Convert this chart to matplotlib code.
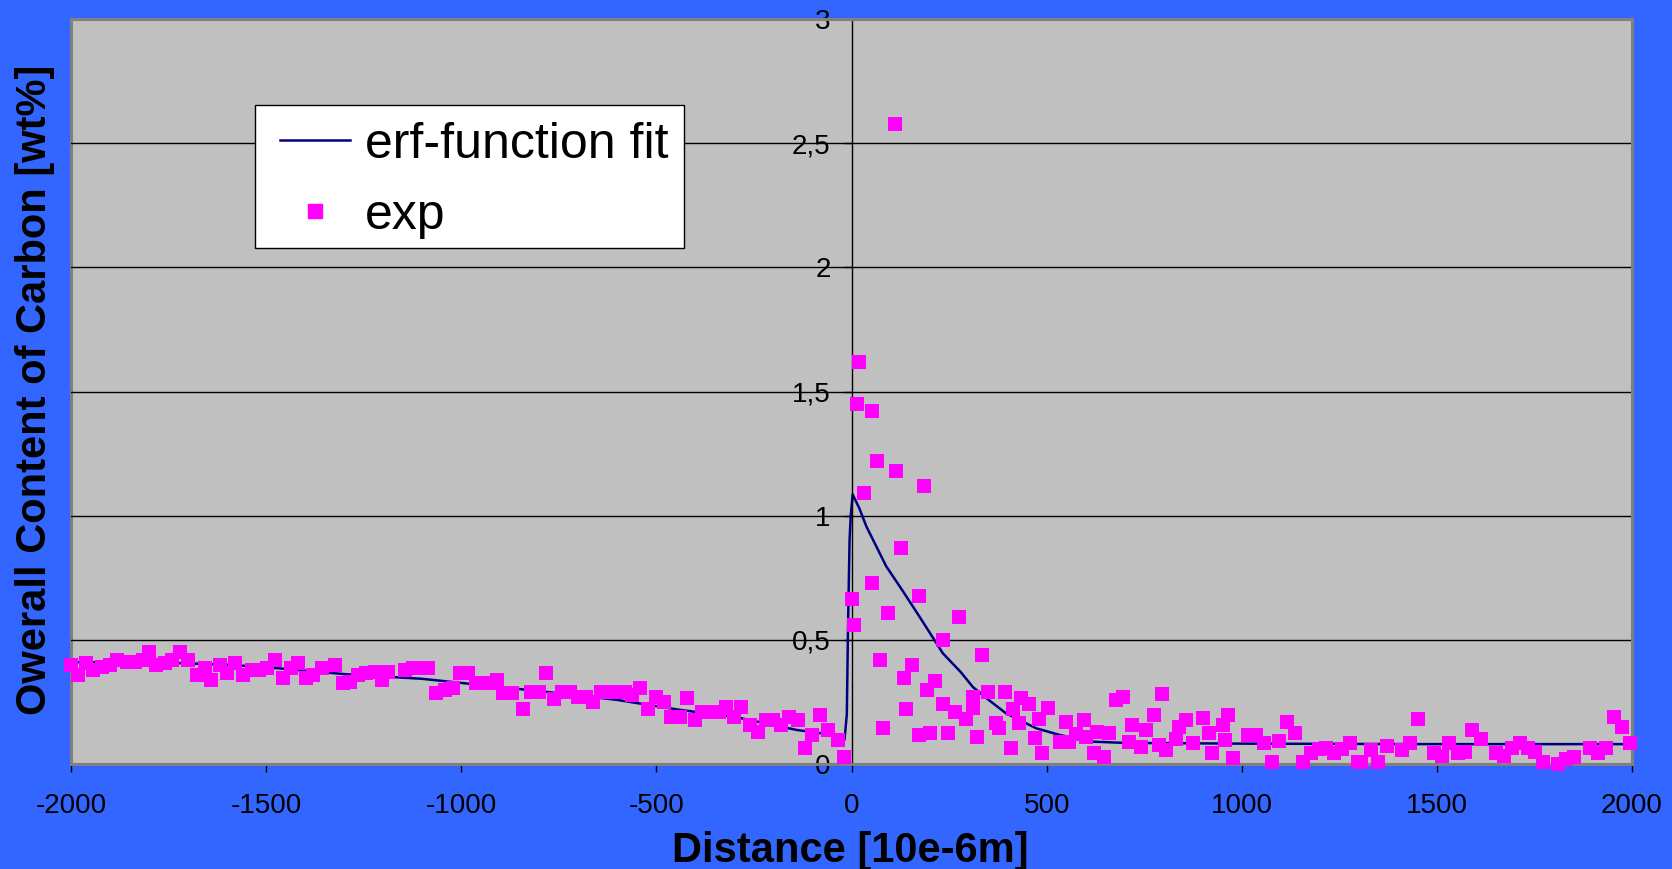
import matplotlib
matplotlib.use("Agg")
import matplotlib.pyplot as plt
import numpy as np
from matplotlib.lines import Line2D
from matplotlib.patches import Rectangle
from matplotlib.ticker import FuncFormatter

plt.rcParams["font.family"] = ["Liberation Sans", "DejaVu Sans"]
plt.rcParams["axes.unicode_minus"] = False

# erf-function fit curve
fit_x = [-2000, -1800, -1600, -1480, -1300, -1100, -900, -750, -600, -440, -300, -140, -60, -18,
         -12, -9, -5, -2, 3, 20, 38, 89, 130, 174, 234, 280, 311, 350, 396, 473, 533, 618, 700,
         1000, 1500, 2000]
fit_y = [0.41, 0.41, 0.40, 0.387, 0.362, 0.343, 0.31, 0.285, 0.258, 0.218, 0.19, 0.137, 0.12, 0.097,
         0.2, 0.54, 0.90, 1.0, 1.085, 1.03, 0.957, 0.796, 0.70, 0.594, 0.446, 0.37, 0.31, 0.26, 0.204,
         0.144, 0.117, 0.09, 0.085, 0.082, 0.08, 0.08]

# experimental points, left side (x < 0)
exp_left_x = [-2000, -1981, -1962, -1943, -1921, -1900, -1881, -1857, -1836, -1815, -1800, -1781,
              -1759, -1740, -1721, -1700, -1678, -1657, -1640, -1618, -1601, -1580, -1559, -1537,
              -1518, -1499, -1478, -1458, -1437, -1418, -1398, -1379, -1358, -1324, -1303, -1286,
              -1264, -1243, -1222, -1204, -1187, -1145, -1123, -1102, -1085, -1064, -1042, -1021,
              -1004, -983, -961, -944, -925, -908, -893, -871, -843, -820, -801, -784, -763, -743,
              -722, -701, -681, -662, -641, -620, -601, -581, -562, -543, -521, -502, -481, -462,
              -440, -422, -402, -382, -362, -340, -321, -302, -282, -261, -240, -220, -202, -180,
              -159, -138, -120, -101, -80, -61, -35, -20]
exp_left_y = [0.40, 0.359, 0.406, 0.379, 0.39, 0.40, 0.42, 0.41, 0.41, 0.42, 0.45, 0.40,
              0.406, 0.42, 0.45, 0.42, 0.359, 0.386, 0.339, 0.40, 0.366, 0.406, 0.359, 0.379,
              0.379, 0.386, 0.42, 0.346, 0.386, 0.406, 0.346, 0.359, 0.386, 0.40, 0.325, 0.332,
              0.359, 0.366, 0.372, 0.339, 0.372, 0.379, 0.386, 0.386, 0.386, 0.285, 0.298, 0.305,
              0.366, 0.366, 0.325, 0.325, 0.325, 0.339, 0.285, 0.285, 0.22, 0.29, 0.29, 0.368, 0.26, 0.29,
              0.29, 0.27, 0.27, 0.25, 0.29, 0.29, 0.29, 0.29, 0.278, 0.305, 0.22, 0.27, 0.25, 0.19,
              0.19, 0.265, 0.177, 0.21, 0.21, 0.21, 0.23, 0.19, 0.23, 0.157, 0.13, 0.177, 0.177, 0.157,
              0.19, 0.177, 0.063, 0.117, 0.198, 0.137, 0.097, 0.03]

# experimental points, right side (x >= 0)
exp_right_x = [0, 7, 14, 20, 33, 53, 53, 66, 73, 80, 93, 112, 113, 127, 134, 140, 154, 172, 174,
               187, 193, 200, 214, 234, 234, 247, 264, 275, 294, 311, 312, 321, 335, 349, 369, 379,
               394, 409, 413, 430, 435, 454, 469, 480, 488, 503, 533, 550, 558, 575,
               597, 601, 622, 630, 648, 661, 678, 695, 712, 720, 742, 755, 776, 789, 796, 806, 831,
               840, 857, 876, 901, 917, 925, 951, 958, 964, 978, 1017, 1036, 1058, 1077, 1096, 1117,
               1137, 1157, 1177, 1197, 1216, 1237, 1257, 1277, 1297, 1305, 1331, 1350, 1371, 1410,
               1431, 1452, 1493, 1513, 1531, 1553, 1572, 1591, 1612, 1651, 1672, 1693, 1712, 1734,
               1752, 1772, 1811, 1832, 1851, 1892, 1914, 1934, 1954, 1974, 1994]
exp_right_y = [0.665, 0.56, 1.45, 1.62, 1.09, 1.42, 0.73, 1.22, 0.42, 0.146, 0.61, 2.576, 1.18, 0.87,
               0.345, 0.22, 0.40, 0.675, 0.117, 1.12, 0.296, 0.126, 0.336, 0.50, 0.24, 0.126, 0.21,
               0.59, 0.18, 0.27, 0.225, 0.108, 0.44, 0.29, 0.164, 0.144, 0.29, 0.063, 0.22, 0.164,
               0.265, 0.24, 0.104, 0.18, 0.043, 0.225, 0.09, 0.17, 0.09, 0.12,
               0.177, 0.11, 0.043, 0.13, 0.03, 0.124, 0.258, 0.271, 0.09, 0.157, 0.07, 0.137, 0.198,
               0.077, 0.282, 0.056, 0.10, 0.15, 0.177, 0.083, 0.184, 0.124, 0.043, 0.157, 0.097, 0.198,
               0.023, 0.117, 0.117, 0.083, 0.01, 0.094, 0.17, 0.124, 0.01, 0.046, 0.06, 0.063, 0.043,
               0.06, 0.083, 0.01, 0.01, 0.056, 0.01, 0.073, 0.056, 0.083, 0.18, 0.043, 0.032, 0.083,
               0.046, 0.05, 0.137, 0.10, 0.043, 0.032, 0.063, 0.083, 0.063, 0.05, 0.01, 0.0, 0.019,
               0.03, 0.063, 0.043, 0.063, 0.19, 0.148, 0.083]

y_ticks = [0, 0.5, 1, 1.5, 2, 2.5, 3]
x_ticks = [-2000, -1500, -1000, -500, 0, 500, 1000, 1500, 2000]

fig = plt.figure(figsize=(16.72, 8.69), dpi=100, facecolor="#3366FF")
ax = fig.add_axes([71 / 1672, 105 / 869, 1561 / 1672, 745 / 869])
ax.set_facecolor("#C0C0C0")
ax.set_xlim(-2000, 2000)
ax.set_ylim(0, 3)

ax.set_yticks(y_ticks)
ax.set_xticks(x_ticks)
ax.yaxis.grid(True, color="black", linewidth=1)
ax.set_axisbelow(True)
ax.yaxis.set_major_formatter(FuncFormatter(lambda v, _: f"{v:g}".replace(".", ",")))

ax.spines["left"].set_position(("data", 0))
ax.spines["left"].set_color("black")
ax.spines["left"].set_linewidth(1)
for side in ("top", "right", "bottom"):
    ax.spines[side].set_color("#808080")
    ax.spines[side].set_linewidth(2.2)
ax.add_patch(Rectangle((0, 0), 1, 1, transform=ax.transAxes, fill=False,
                       edgecolor="#808080", linewidth=2.2, clip_on=False, zorder=0.5))

ax.tick_params(axis="y", direction="out", length=6, width=1, pad=9, labelsize=20)
ax.tick_params(axis="x", direction="out", length=6, width=1, pad=15, labelsize=20)

ax.plot(fit_x, fit_y, color="#000080", linewidth=1.8, zorder=2)
ax.scatter(exp_left_x + exp_right_x, exp_left_y + exp_right_y, marker="s", s=115,
           color="#FF00FF", linewidths=0, zorder=3, clip_on=False)

# legend: white box drawn separately, entries placed inside without frame
ax.add_patch(Rectangle((0.1179, 0.692), 0.3924 - 0.1179, 0.8852 - 0.692, transform=ax.transAxes,
                       facecolor="white", edgecolor="black", linewidth=1, zorder=4))
handles = [Line2D([], [], color="#000080", linewidth=1.8),
           Line2D([], [], color="#FF00FF", marker="s", markersize=10.5, linestyle="none")]
leg = ax.legend(handles, ["erf-function fit", "exp"], loc="upper left",
                bbox_to_anchor=(0.1341, 0.8618), fontsize=36, frameon=False, borderpad=0,
                labelspacing=0.5, handlelength=1.4, handletextpad=0.3, borderaxespad=0)
leg.set_zorder(5)

fig.text(850 / 1672, 1 - 851 / 869, "Distance [10e-6m]", fontsize=30, fontweight="bold",
         ha="center", va="center")
fig.text(35 / 1672, 1 - 390 / 869, "Owerall Content of Carbon [wt%]", fontsize=30,
         fontweight="bold", rotation=90, ha="center", va="center")

fig.savefig("out.png", dpi=100, facecolor=fig.get_facecolor())
